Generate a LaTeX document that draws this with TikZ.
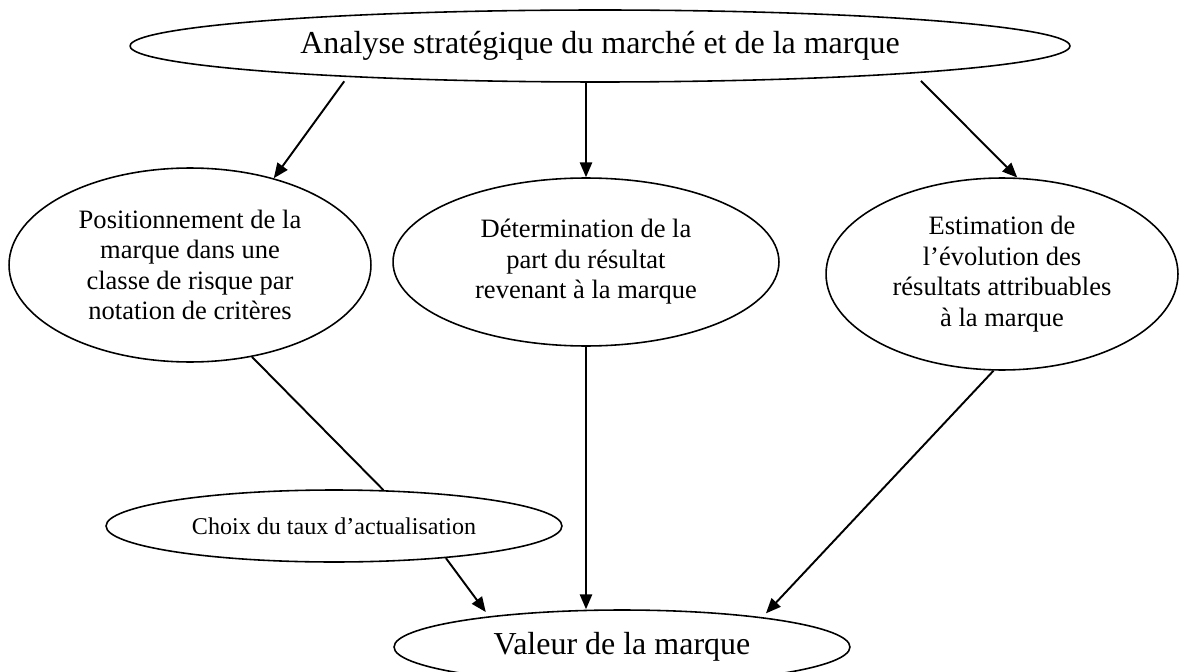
\documentclass[tikz,border=0pt]{standalone}
\usepackage{fontspec}
\setmainfont{Liberation Serif}
\usepackage{tikz}
\usetikzlibrary{arrows.meta}
\usetikzlibrary{shapes.geometric}
\tikzstyle{bulle}=[ellipse,draw,line width=0.9pt,fill=white,inner sep=0pt,align=center]
\tikzstyle{grand}=[font=\fontsize{18.2}{21}\selectfont]
\tikzstyle{moyen}=[font=\fontsize{15.1}{17.4}\selectfont]
\tikzstyle{petit}=[font=\fontsize{13.7}{15.8}\selectfont]

\begin{document}
\begin{tikzpicture}
		[x=0.02cm,y=-0.02cm, edge/.style = {->,line width=1.1pt,> = {Triangle[length=8.5pt,width=7pt]}}]
		\useasboundingbox (0,0) rectangle (1179,672);
		\node[bulle,grand,minimum width=18.8cm,minimum height=1.44cm] (analyse) at (600,46) {Analyse stratégique du marché et de la marque};
		\node[bulle,moyen,minimum width=7.24cm,minimum height=3.88cm] (position) at (190,265) {Positionnement de la\\ marque dans une\\ classe de risque par\\ notation de critères};
		\node[bulle,moyen,minimum width=7.72cm,minimum height=3.36cm] (part) at (586,262) {Détermination de la\\ part du résultat\\ revenant à la marque};
		\node[bulle,moyen,minimum width=7.04cm,minimum height=3.84cm] (evolution) at (1002,274) {Estimation de\\ l’évolution des\\ résultats attribuables\\ à la marque};
		\node[bulle,petit,minimum width=9.12cm,minimum height=1.44cm] (choix) at (334,526) {Choix du taux d’actualisation};
		\node[bulle,grand,minimum width=9.12cm,minimum height=1.48cm] (valeur) at (622,647) {Valeur de la marque};
		
		\draw[edge,shorten <=3pt] (analyse.187.5) -- (position.46);
		\draw[edge] (analyse.south -| part.north) -- (part.north);
		\draw[edge,shorten <=6pt] (analyse.-5) -- (evolution.81.7);
		\draw[line width=1.1pt] (position.-56.6) -- (choix.36.3);
		\draw[edge,shorten >=3pt] (choix.-16) -- (valeur.167.4);
		\draw[edge] (part.south) -- (part.south |- valeur.north);
		\draw[edge,shorten >=3pt] (evolution.-95) -- (valeur.12);
		
		\end{tikzpicture}
\end{document}
